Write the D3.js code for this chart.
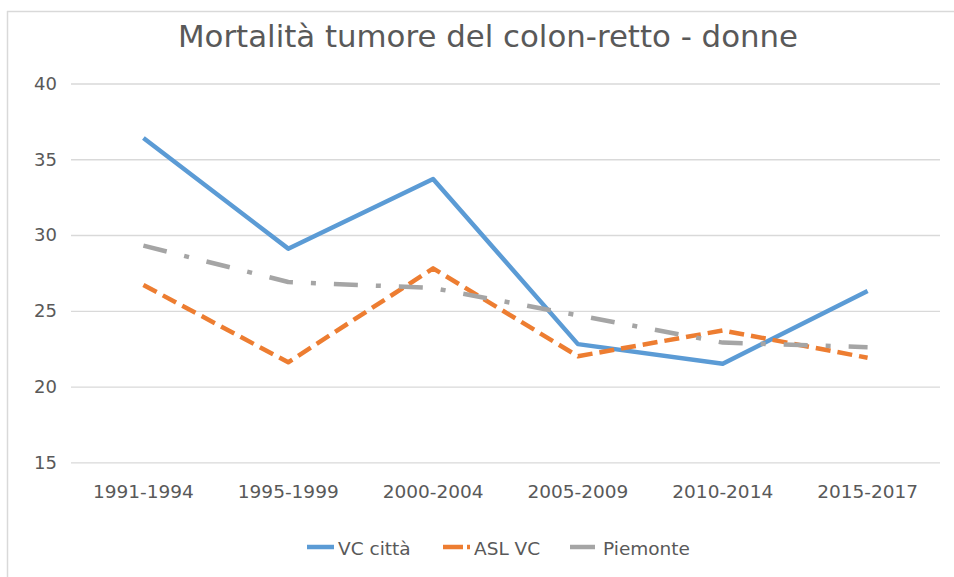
<!DOCTYPE html>
<html>
<head>
<meta charset="utf-8">
<script src="https://cdnjs.cloudflare.com/ajax/libs/d3/7.8.5/d3.min.js"></script>
<style>
  html, body { margin: 0; padding: 0; background: #fff; }
  svg { display: block; }
  text { font-family: "DejaVu Sans", sans-serif; fill: #595959; }
</style>
</head>
<body>
<svg width="954" height="577"></svg>
<script>
const periods = ['1991-1994', '1995-1999', '2000-2004', '2005-2009', '2010-2014', '2015-2017']
const vcCitta = [36.4, 29.1, 33.7, 22.8, 21.5, 26.3]
const aslVc = [26.7, 21.6, 27.8, 22.0, 23.7, 21.9]
const piemonte = [29.3, 26.9, 26.5, 24.7, 22.9, 22.6]
const yTicks = [15, 20, 25, 30, 35, 40]

const series = [
  {name: 'VC città', values: vcCitta, color: '#5b9bd5', dash: null},
  {name: 'ASL VC', values: aslVc, color: '#ed7d31', dash: '15,7'},
  {name: 'Piemonte', values: piemonte, color: '#a5a5a5', dash: '24,18,5,18'}
]

const svg = d3.select('svg')

// chart frame (only top and left edges visible in the crop)
svg.append('line').attr('x1', 7).attr('x2', 954).attr('y1', 11.5).attr('y2', 11.5)
  .attr('stroke', '#d9d9d9').attr('stroke-width', 1.5)
svg.append('line').attr('x1', 7.5).attr('x2', 7.5).attr('y1', 11).attr('y2', 577)
  .attr('stroke', '#d9d9d9').attr('stroke-width', 1.5)

svg.append('text')
  .attr('x', 178).attr('y', 47)
  .attr('textLength', 620)
  .attr('lengthAdjust', 'spacingAndGlyphs')
  .style('font-size', '29.5px')
  .text('Mortalità tumore del colon-retto - donne')

const plotLeft = 71, plotRight = 940, plotTop = 83.5, plotBottom = 462.3

const x = d3.scaleBand().domain(periods).range([plotLeft, plotRight])
const y = d3.scaleLinear().domain([15, 40]).range([plotBottom, plotTop])

// gridlines
svg.append('g')
  .attr('transform', `translate(${plotLeft},0)`)
  .call(d3.axisLeft(y).tickValues(yTicks).tickSize(-(plotRight - plotLeft)).tickFormat(''))
  .call(g => g.select('.domain').remove())
  .call(g => g.selectAll('line').attr('stroke', '#d9d9d9').attr('stroke-width', 1.3))

// y labels
svg.append('g')
  .attr('transform', `translate(${plotLeft},0)`)
  .call(d3.axisLeft(y).tickValues(yTicks).tickSize(0).tickPadding(14))
  .call(g => g.select('.domain').remove())
  .call(g => g.selectAll('text').style('font-size', '18px').attr('fill', '#595959'))

// x labels
svg.append('g')
  .attr('transform', `translate(0,${plotBottom})`)
  .call(d3.axisBottom(x).tickSize(0).tickPadding(23))
  .call(g => g.select('.domain').remove())
  .call(g => g.selectAll('text').style('font-size', '18.5px').attr('fill', '#595959'))

const line = d3.line()
  .x((d, i) => x(periods[i]) + x.bandwidth() / 2)
  .y(d => y(d))

series.forEach(s => {
  svg.append('path')
    .datum(s.values)
    .attr('d', line)
    .attr('fill', 'none')
    .attr('stroke', s.color)
    .attr('stroke-width', 4.5)
    .attr('stroke-linejoin', 'round')
    .attr('stroke-dasharray', s.dash)
})

// legend
const legendX = [307, 443, 570]
const legend = svg.append('g').selectAll('g')
  .data(series)
  .join('g')
  .attr('transform', (d, i) => `translate(${legendX[i]},547)`)

legend.append('line')
  .attr('x1', 0).attr('x2', (d, i) => i === 2 ? 25 : 27)
  .attr('stroke', d => d.color)
  .attr('stroke-width', 4.5)
  .attr('stroke-dasharray', (d, i) => i === 1 ? '20,4,3,10' : null)

legend.append('text')
  .attr('x', (d, i) => i === 2 ? 33 : 31)
  .attr('y', 8)
  .style('font-size', '18.5px')
  .text(d => d.name)
</script>
</body>
</html>
